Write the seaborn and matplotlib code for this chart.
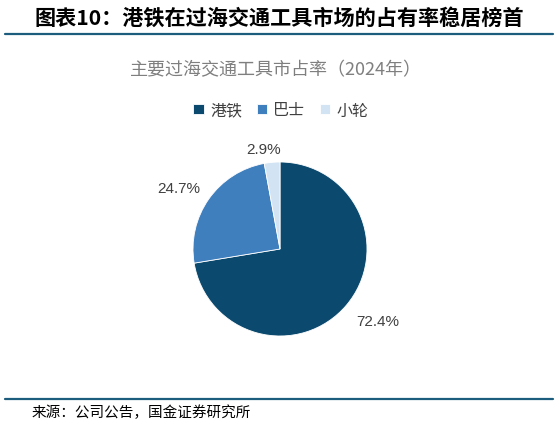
import matplotlib
matplotlib.use("Agg")
import matplotlib.pyplot as plt
import seaborn as sns
import numpy as np

# data
categories = ["港铁", "巴士", "小轮"]
shares = [72.4, 24.7, 2.9]
colors = ["#0b4a6e", "#3f7fbe", "#d2e3f3"]
label_dist = [1.39, 1.36, 1.16]

sns.set_theme(style="white")
plt.rcParams["font.family"] = ["Noto Sans CJK SC", "DejaVu Sans"]

W, H = 559, 431
fig = plt.figure(figsize=(W / 100, H / 100), dpi=100)
fig.patch.set_facecolor("white")

# pie axes: centre (280, 250) px, radius 87 px
cx, cy, r = 280, 250, 87
ax = fig.add_axes([(cx - r) / W, (H - cy - r) / H, 2 * r / W, 2 * r / H])
wedges, _ = ax.pie(shares, colors=sns.color_palette(colors), startangle=90,
                   counterclock=False,
                   wedgeprops=dict(edgecolor="white", linewidth=0.6))
ax.set_xlim(-1, 1)
ax.set_ylim(-1, 1)

# labels sit a little counter-clockwise of the wedge middle, like the original
for w, v, d in zip(wedges, shares, label_dist):
    ang = np.deg2rad((w.theta1 + w.theta2) / 2 + 4)
    ax.text(d * np.cos(ang), d * np.sin(ang), f"{v:.1f}%",
            ha="center", va="center", fontsize=11, color="#404040",
            family=["Liberation Sans", "DejaVu Sans"])

# title and rules
fig.text(35 / W, 1 - 18 / H, "图表10：港铁在过海交通工具市场的占有率稳居榜首",
         fontsize=15.2, fontweight="bold", color="black", ha="left", va="center")
fig.add_artist(plt.Line2D([5 / W, 553 / W], [1 - 35 / H, 1 - 35 / H],
                          color="#1c5c7c", linewidth=1.6))
fig.add_artist(plt.Line2D([5 / W, 553 / W], [1 - 400 / H, 1 - 400 / H],
                          color="#1c5c7c", linewidth=1.6))

fig.text(276 / W, 1 - 70 / H, "主要过海交通工具市占率（2024年）",
         fontsize=13, color="#7f7f7f", ha="center", va="center")

leg = fig.legend(wedges, categories, loc="center", bbox_to_anchor=(281 / W, 1 - 111 / H),
                 ncol=3, frameon=False, fontsize=11.5, handlelength=0.65,
                 handleheight=0.65, handletextpad=0.4, columnspacing=0.9)
for t in leg.get_texts():
    t.set_color("#404040")

fig.text(32 / W, 1 - 413 / H, "来源：公司公告，国金证券研究所",
         fontsize=10.5, color="black", ha="left", va="center")

fig.savefig("out.png", dpi=100)
